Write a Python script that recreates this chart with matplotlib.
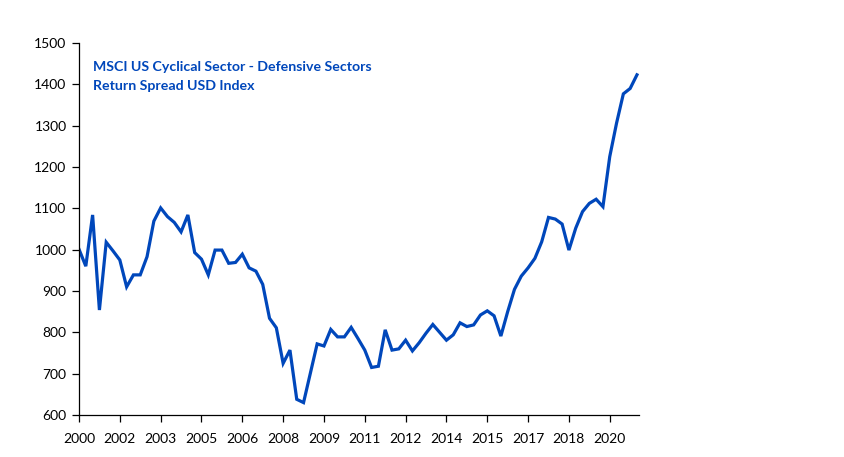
import matplotlib
matplotlib.use("Agg")
import matplotlib.pyplot as plt

values = [1001, 960, 1084, 854, 1018, 997, 975, 910, 939, 939,
          983, 1069, 1101, 1080, 1066, 1043, 1084, 993, 977, 939,
          999, 999, 967, 969, 989, 956, 948, 916, 834, 811,
          725, 757, 638, 630, 701, 772, 767, 807, 789, 789,
          812, 785, 757, 715, 718, 806, 757, 760, 781, 755,
          775, 798, 819, 800, 781, 794, 823, 814, 818, 842,
          852, 840, 791, 850, 904, 936, 956, 979, 1019, 1078,
          1074, 1062, 999, 1052, 1092, 1112, 1122, 1104, 1225, 1306,
          1377, 1390, 1423]
tick_labels = ["2000", "2002", "2003", "2005", "2006", "2008", "2009",
               "2011", "2012", "2014", "2015", "2017", "2018", "2020"]
y_ticks = [600, 700, 800, 900, 1000, 1100, 1200, 1300, 1400, 1500]
title_lines = ["MSCI US Cyclical Sector - Defensive Sectors",
               "Return Spread USD Index"]

plt.rcParams['font.family'] = ['Lato', 'DejaVu Sans']

fig = plt.figure(figsize=(8.44, 4.57), dpi=100)
ax = fig.add_axes([79/844, 1-415/457, (639-79)/844, (415-43)/457])

x = list(range(len(values)))
ax.plot(x, values, color="#0047BB", lw=2.3, solid_joinstyle="miter")

ax.set_ylim(600, 1500)
ax.set_xlim(0, 82.3)
ax.set_yticks(y_ticks)
ax.set_yticklabels([str(v) for v in y_ticks])
ax.set_xticks(list(range(0, 6*len(tick_labels), 6)))
ax.set_xticklabels(tick_labels)

for s in ["top", "right"]:
    ax.spines[s].set_visible(False)
for s in ["left", "bottom"]:
    ax.spines[s].set_color("#000000")
    ax.spines[s].set_linewidth(0.9)
ax.tick_params(axis="both", direction="out", length=5, width=0.9,
               color="#000000", labelsize=10, labelcolor="#000000")
ax.tick_params(axis="x", pad=8)
ax.tick_params(axis="y", pad=4)

fig.text(93/844, 1-67/457, title_lines[0], color="#0047BB", fontsize=10.2,
         fontweight="bold", va="center", ha="left")
fig.text(93/844, 1-86/457, title_lines[1], color="#0047BB", fontsize=10.2,
         fontweight="bold", va="center", ha="left")

fig.savefig("out.png", dpi=100)
